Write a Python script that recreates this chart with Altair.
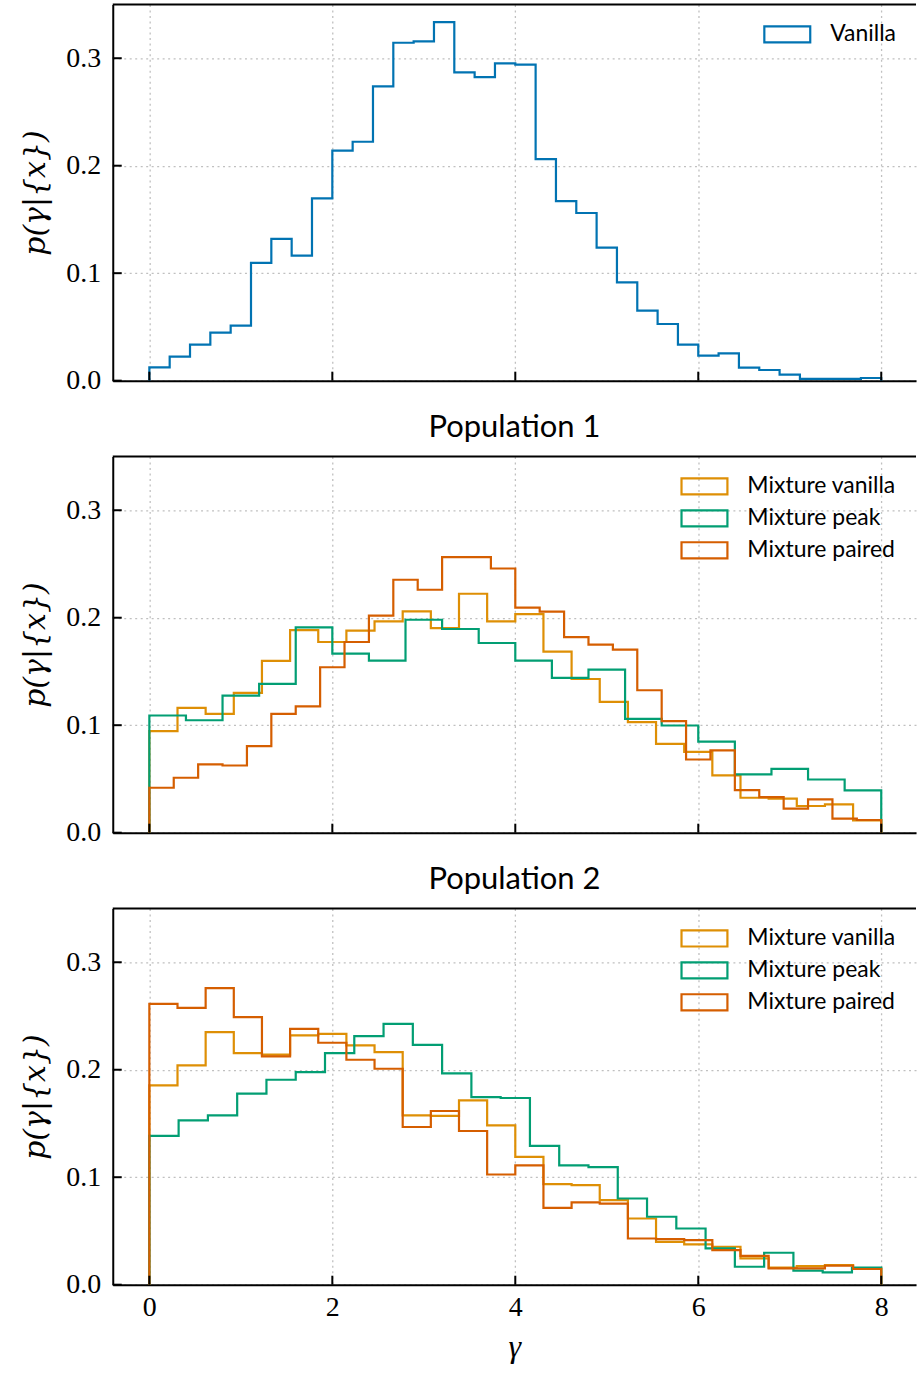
import altair as alt
import numpy as np
import pandas as pd

# Posterior densities of gamma, one value per histogram bin on [0, 8]
vanilla = [0.0124, 0.0223, 0.0335, 0.0447, 0.0512, 0.1095, 0.1320, 0.1163, 0.1696,
           0.2140, 0.2223, 0.2738, 0.3144, 0.3157, 0.3336, 0.2868, 0.2825, 0.2952,
           0.2940, 0.2062, 0.1671, 0.1560, 0.1237, 0.0915, 0.0651, 0.0527, 0.0335,
           0.0233, 0.0254, 0.0121, 0.0099, 0.0056, 0.0016, 0.0016, 0.0016, 0.0025]

pop1_vanilla = [0.0944, 0.1161, 0.1105, 0.1300, 0.1598, 0.1885, 0.1774, 0.1879, 0.1966,
                0.2059, 0.1904, 0.2223, 0.1966, 0.2034, 0.1684, 0.1430, 0.1217, 0.1028,
                0.0827, 0.0752, 0.0533, 0.0325, 0.0316, 0.0248, 0.0263, 0.0115]
pop1_peak = [0.1090, 0.1046, 0.1276, 0.1384, 0.1910, 0.1666, 0.1600, 0.1981, 0.1895,
             0.1765, 0.1600, 0.1440, 0.1517, 0.1059, 0.0997, 0.0848, 0.0542, 0.0594,
             0.0495, 0.0393]
pop1_paired = [0.0418, 0.0511, 0.0635, 0.0625, 0.0805, 0.1105, 0.1176, 0.1539, 0.1774,
               0.2019, 0.2353, 0.2260, 0.2563, 0.2563, 0.2458, 0.2093, 0.2056, 0.1820,
               0.1749, 0.1703, 0.1325, 0.1037, 0.0681, 0.0765, 0.0396, 0.0331, 0.0223,
               0.0310, 0.0130, 0.0118]

pop2_vanilla = [0.1854, 0.2040, 0.2350, 0.2155, 0.2140, 0.2319, 0.2334, 0.2226, 0.2164,
                0.1576, 0.1570, 0.1715, 0.1483, 0.1189, 0.0935, 0.0926, 0.0786, 0.0616,
                0.0399, 0.0375, 0.0353, 0.0245, 0.0158, 0.0173, 0.0183, 0.0152]
pop2_peak = [0.1384, 0.1529, 0.1576, 0.1777, 0.1907, 0.1978, 0.2155, 0.2313, 0.2427,
             0.2232, 0.1966, 0.1746, 0.1737, 0.1291, 0.1111, 0.1093, 0.0802, 0.0632,
             0.0523, 0.0337, 0.0167, 0.0297, 0.0130, 0.0115, 0.0158]
pop2_paired = [0.2613, 0.2576, 0.2759, 0.2489, 0.2124, 0.2381, 0.2251, 0.2093, 0.2009,
               0.1467, 0.1616, 0.1430, 0.1025, 0.1111, 0.0715, 0.0765, 0.0755, 0.0430,
               0.0424, 0.0415, 0.0322, 0.0269, 0.0152, 0.0152, 0.0176, 0.0146]

mixture_names = ["Mixture vanilla", "Mixture peak", "Mixture paired"]
mixture_colors = ["#DE8F05", "#029E73", "#D55E00"]
vanilla_color = "#0173B2"

x_ticks = [0, 2, 4, 6, 8]
y_ticks = [0.0, 0.1, 0.2, 0.3]
GAMMA_MIN, GAMMA_MAX = 0.0, 8.0

W, H = 805, 377
TICK_LEN = 9
SERIF = "Liberation Serif"
MATH = "DejaVu Serif"
SANS = "Lato"


def step_outline(heights, name):
    """Open step outline of a histogram: down to zero at both outer edges."""
    edges = np.linspace(GAMMA_MIN, GAMMA_MAX, len(heights) + 1)
    xs = [edges[0]] + list(edges[:-1]) + [edges[-1]]
    ys = [0.0] + list(heights) + [0.0]
    return pd.DataFrame({"gamma": xs, "p": ys, "series": name, "idx": range(len(xs))})


x_scale = alt.Scale(domain=[-0.4, 8.38], nice=False, zero=False)
y_scale = alt.Scale(domain=[0, 0.35], nice=False)


def panel(series, names, colors, legend_x, legend_y, title=None, bottom=False):
    df = pd.concat([step_outline(v, n) for v, n in zip(series, names)], ignore_index=True)

    x_axis = alt.Axis(values=x_ticks, grid=True, ticks=False, labels=bottom,
                      title="γ" if bottom else "", format="d",
                      labelPadding=9, titlePadding=10, titleFont=SERIF,
                      titleFontSize=32)
    y_axis = alt.Axis(values=y_ticks, grid=True, ticks=False, format=".1f",
                      title="p(γ|{x})", labelPadding=12,
                      titleX=-77, titleY=H / 2, titleBaseline="middle")

    lines = alt.Chart(df).mark_line(interpolate="step-after", strokeWidth=2.2).encode(
        x=alt.X("gamma:Q", scale=x_scale, axis=x_axis),
        y=alt.Y("p:Q", scale=y_scale, axis=y_axis),
        color=alt.Color(
            "series:N",
            scale=alt.Scale(domain=names, range=colors),
            legend=alt.Legend(
                title=None, orient="none", legendX=legend_x, legendY=legend_y,
                symbolType="M-2,-0.7H2V0.7H-2Z", symbolSize=529,
                symbolStrokeWidth=2.2, symbolFillColor="transparent",
                labelFont=SANS, labelFontSize=23, labelColor="#000000",
                labelOffset=30, rowPadding=6, padding=0,
            ),
        ),
        order="idx:Q",
    )

    # inward tick marks on the bottom and left spines
    xt = alt.Chart(pd.DataFrame({"gamma": x_ticks})).mark_rule(color="black", strokeWidth=2).encode(
        x=alt.X("gamma:Q", scale=x_scale, axis=x_axis),
        y=alt.value(H), y2=alt.value(H - TICK_LEN),
    )
    yt = alt.Chart(pd.DataFrame({"p": y_ticks})).mark_rule(color="black", strokeWidth=2).encode(
        y=alt.Y("p:Q", scale=y_scale, axis=y_axis),
        x=alt.value(0), x2=alt.value(TICK_LEN),
    )
    # top spine
    top = alt.Chart(pd.DataFrame({"s": [0]})).mark_rule(color="black", strokeWidth=2).encode(
        x=alt.value(0), x2=alt.value(W), y=alt.value(0),
    )

    props = dict(width=W, height=H)
    if title:
        props["title"] = alt.TitleParams(title, font=SANS, fontSize=31, fontWeight="normal",
                                         color="black", offset=12)
    return alt.layer(lines, xt, yt, top).properties(**props)


p1 = panel([vanilla], ["Vanilla"], [vanilla_color], legend_x=663, legend_y=17)
p2 = panel([pop1_vanilla, pop1_peak, pop1_paired], mixture_names, mixture_colors,
           legend_x=580, legend_y=17, title="Population 1")
p3 = panel([pop2_vanilla, pop2_peak, pop2_paired], mixture_names, mixture_colors,
           legend_x=580, legend_y=17, title="Population 2", bottom=True)

chart = alt.vconcat(p1, p2, p3, spacing=15).resolve_scale(color="independent").properties(
    padding={"left": 20, "top": 1, "right": 0, "bottom": 4}
).configure_view(stroke="transparent").configure_axis(
    domainColor="black", domainWidth=2,
    gridColor="#c0c0c0", gridDash=[2, 3.5], gridWidth=1.3,
    labelFont=SERIF, labelFontSize=28, labelColor="black",
    titleFont=MATH, titleFontSize=30, titleFontStyle="italic", titleFontWeight="normal",
    titleColor="black",
).configure_legend(labelLimit=400)

chart.save("out.html", embed_options={"renderer": "svg", "actions": False})
